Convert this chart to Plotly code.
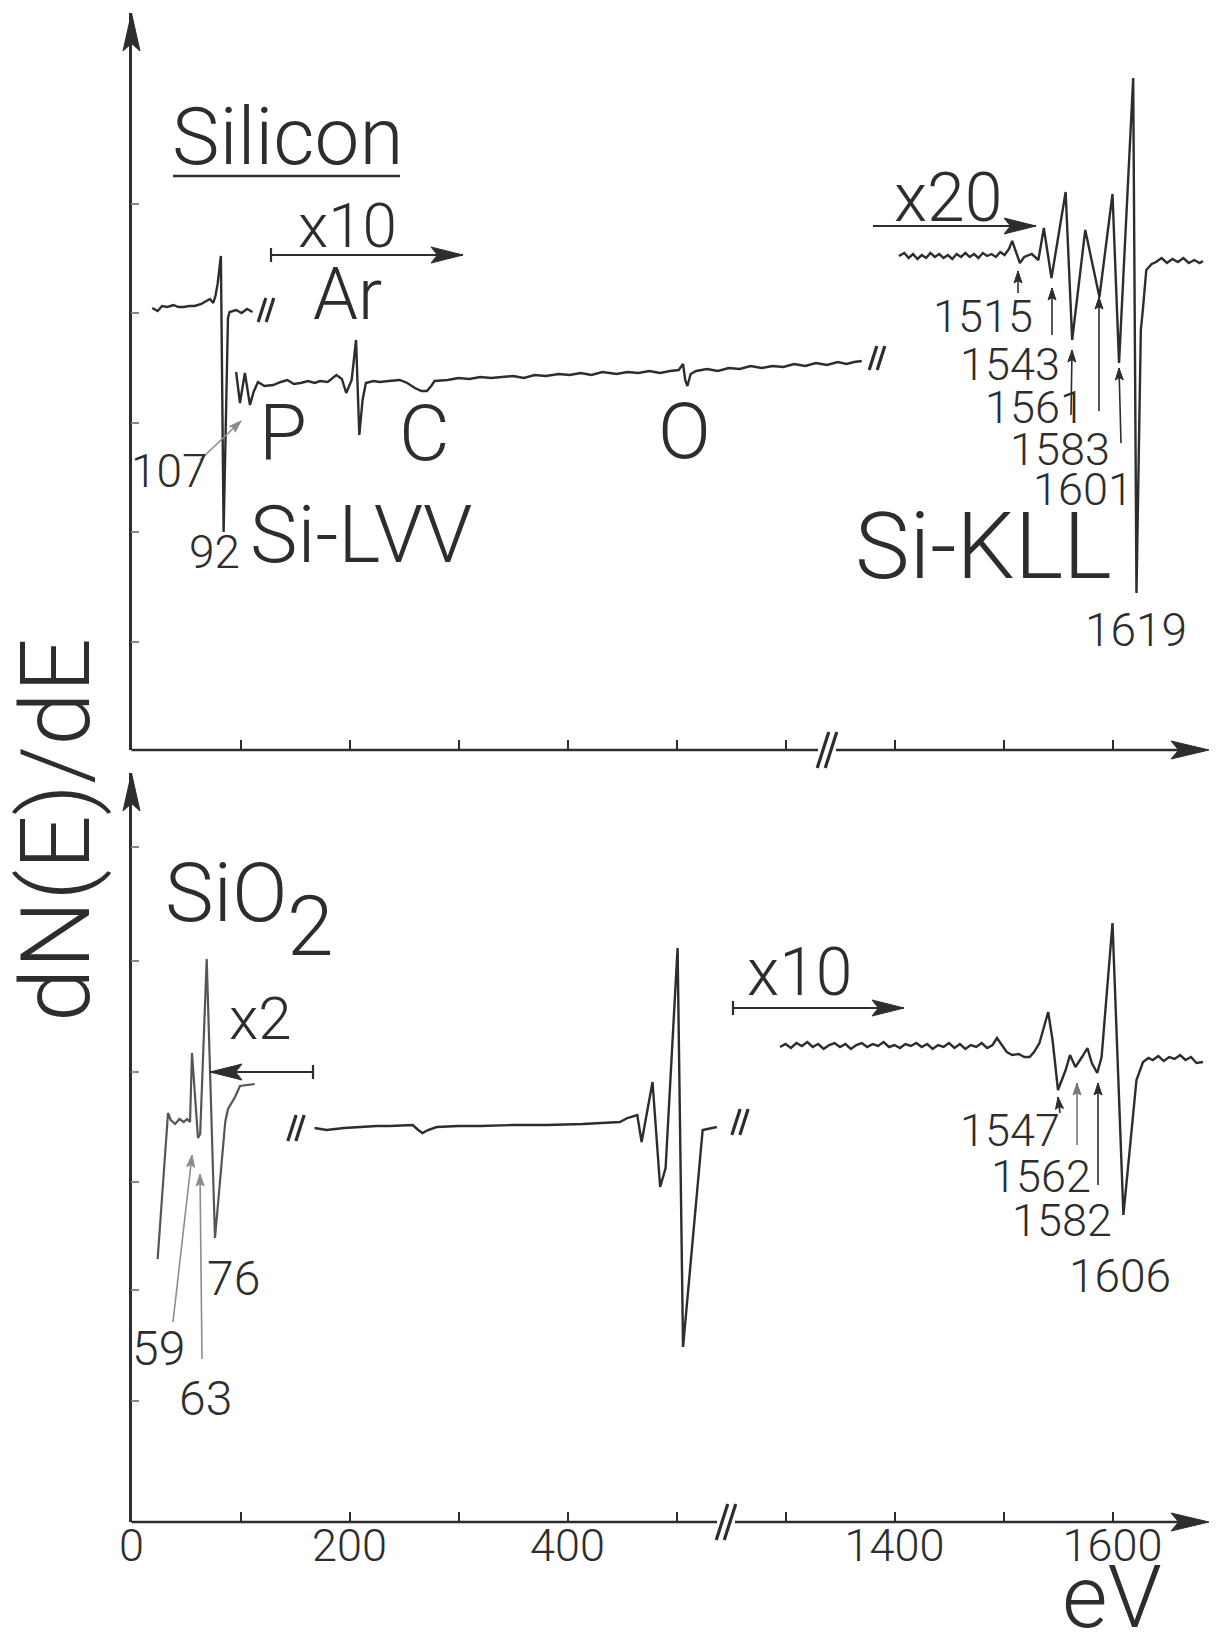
import math
import plotly.graph_objects as go

W, H = 1220, 1649
INK = "#2d2d2d"
GREY = "#8c8c8c"
FONT = "Roboto, Lato, 'DejaVu Sans', sans-serif"

# Broken energy axis: energies above the break are drawn shifted left by GAP eV
GAP = 700

# ------------------------------------------------------------------ data
# Silicon, Si-LVV region (x1)
si_lvv_e = [19, 24, 28, 33, 38.5, 43, 48, 53, 58, 62, 64, 67, 70, 72, 75, 77, 79, 82,
            84.5, 88.5, 90, 96, 101, 106, 111]
si_lvv_s = [4.42, 4.39, 4.44, 4.43, 4.45, 4.43, 4.43, 4.44, 4.44, 4.45, 4.46, 4.48, 4.50,
            4.51, 4.47, 4.54, 4.66, 4.94, 2.18, 4.32, 4.38, 4.40, 4.37, 4.41, 4.38]

# Silicon, 100-670 eV (x10): P, Ar, C, O
si_x10_e = [96, 99.5, 104, 108.7, 112, 116, 122, 130, 137, 143, 149, 155, 162, 168, 173,
            180, 188, 193, 197, 202, 206, 209, 212, 215, 222, 228, 236, 246, 253, 260,
            266, 271, 275, 278, 290, 300, 310, 320, 330, 340, 350, 360, 370, 380, 392,
            402, 412, 422, 432, 445, 455, 465, 475, 485, 494, 502, 506, 508, 510, 513,
            518, 528, 538, 548, 558, 568, 578, 588, 598, 608, 618, 628, 638, 648, 656,
            663, 670]
si_x10_s = [3.78, 3.47, 3.77, 3.45, 3.58, 3.68, 3.64, 3.65, 3.68, 3.70, 3.66, 3.67, 3.69,
            3.67, 3.69, 3.68, 3.75, 3.71, 3.57, 3.70, 4.10, 3.15, 3.50, 3.67, 3.69, 3.68,
            3.69, 3.70, 3.67, 3.62, 3.59, 3.59, 3.64, 3.69, 3.70, 3.72, 3.71, 3.73, 3.72,
            3.73, 3.74, 3.72, 3.75, 3.74, 3.76, 3.75, 3.77, 3.75, 3.78, 3.76, 3.78, 3.77,
            3.79, 3.77, 3.79, 3.80, 3.86, 3.70, 3.64, 3.76, 3.79, 3.81, 3.79, 3.82, 3.81,
            3.84, 3.82, 3.84, 3.83, 3.86, 3.84, 3.87, 3.85, 3.88, 3.86, 3.88, 3.89]

# Silicon, Si-KLL region (x20)
si_kll_e = [1404, 1409, 1413, 1417, 1421, 1425, 1429, 1433, 1437, 1441, 1445, 1449, 1453,
            1457, 1461, 1465, 1469, 1473, 1477, 1481, 1485, 1489, 1493, 1497, 1501, 1505,
            1508, 1511, 1515, 1519, 1526, 1532, 1537, 1544, 1557, 1563, 1575, 1588, 1600,
            1606, 1619, 1622, 1626, 1628, 1631, 1636, 1640, 1645, 1650, 1655, 1660, 1665,
            1670, 1675, 1680, 1683]
si_kll_s = [4.94, 4.97, 4.92, 4.96, 4.91, 4.95, 4.92, 4.97, 4.93, 4.96, 4.92, 4.95, 4.91,
            4.96, 4.93, 4.97, 4.93, 4.96, 4.92, 4.97, 4.94, 4.96, 4.93, 4.98, 4.95, 5.01,
            5.09, 5.00, 4.87, 4.93, 4.96, 4.90, 5.22, 4.72, 5.58, 4.10, 5.20, 4.53, 5.56,
            3.87, 6.72, 1.57, 4.20, 4.42, 4.80, 4.86, 4.88, 4.92, 4.87, 4.91, 4.88, 4.92,
            4.87, 4.90, 4.87, 4.89]

# SiO2, Si-LVV region (x2)
sio2_lvv_e = [24, 33.5, 36, 40, 44, 48, 51, 53.7, 55.5, 61, 63, 69, 76.6, 86, 88.5, 95,
              99.5, 106, 113]
sio2_lvv_s = [2.63, 4.09, 4.02, 3.98, 4.03, 4.00, 4.03, 4.00, 4.69, 3.84, 3.88, 5.63, 2.84,
              4.00, 4.13, 4.25, 4.36, 4.37, 4.38]

# SiO2, 170-540 eV (x1): C, O-KLL
sio2_mid_e = [168, 179, 195, 210, 225, 237, 250, 258, 263, 267, 272, 280, 300, 320, 350,
              381, 414, 440, 448, 455, 464, 468, 478, 485, 490, 501, 506, 524, 537]
sio2_mid_s = [3.94, 3.92, 3.94, 3.95, 3.96, 3.96, 3.97, 3.97, 3.92, 3.89, 3.92, 3.95, 3.96,
              3.96, 3.97, 3.97, 3.98, 4.00, 4.00, 4.04, 4.07, 3.80, 4.40, 3.35, 3.54, 5.74,
              1.75, 3.92, 3.95]

# SiO2, Si-KLL region (x10)
sio2_kll_e = [1295, 1300, 1305, 1310, 1315, 1320, 1325, 1330, 1335, 1340, 1345, 1350, 1355,
              1360, 1365, 1370, 1375, 1380, 1385, 1390, 1395, 1400, 1405, 1410, 1415, 1420,
              1425, 1430, 1435, 1440, 1445, 1450, 1455, 1460, 1465, 1470, 1475, 1480, 1485,
              1490, 1494, 1498, 1503, 1508, 1514, 1519, 1524, 1528, 1533, 1541, 1545, 1550,
              1557, 1561, 1566, 1572, 1577, 1581, 1586, 1590, 1600, 1610, 1622, 1628, 1633,
              1637, 1642, 1647, 1652, 1657, 1662, 1667, 1672, 1677, 1683]
sio2_kll_s = [4.75, 4.78, 4.74, 4.79, 4.76, 4.80, 4.75, 4.78, 4.73, 4.77, 4.79, 4.75, 4.78,
              4.73, 4.77, 4.79, 4.75, 4.78, 4.76, 4.80, 4.75, 4.77, 4.74, 4.78, 4.76, 4.79,
              4.75, 4.78, 4.73, 4.77, 4.75, 4.79, 4.74, 4.78, 4.73, 4.77, 4.75, 4.79, 4.74,
              4.77, 4.84, 4.78, 4.70, 4.67, 4.68, 4.65, 4.65, 4.70, 4.79, 5.10, 4.82, 4.32,
              4.52, 4.67, 4.55, 4.65, 4.74, 4.59, 4.49, 4.65, 5.99, 3.07, 4.42, 4.60, 4.64,
              4.62, 4.66, 4.61, 4.65, 4.63, 4.67, 4.62, 4.65, 4.59, 4.60]

# axis ticks (eV) and labels
top_tick_ev = [100, 200, 300, 400, 500, 600, 1400, 1500, 1600]
bot_tick_ev = [0, 100, 200, 300, 400, 500, 1300, 1400, 1500, 1600]
bot_tick_text = ["0", "", "200", "", "400", "", "", "1400", "", "1600"]
top_ytick = [1.08, 2.18, 3.27, 4.37, 5.46]
bot_ytick = [1.21, 2.32, 3.40, 4.50, 5.61, 6.75]


def disp(E):
    return [e - GAP if e >= 1000 else e for e in E]


# ------------------------------------------------------------------ geometry helpers
Y0PX = 131.5          # pixel column of the energy origin
PXPEV = 1.09          # pixels per eV
XMAX = (W - Y0PX) / PXPEV


def X(px):
    return px / W


def Y(py):
    return 1 - py / H


def line(x0, y0, x1, y1, color=INK, width=2.4):
    return dict(type="line", xref="paper", yref="paper", x0=X(x0), y0=Y(y0),
                x1=X(x1), y1=Y(y1), line=dict(color=color, width=width))


def head(xb, yb, xt, yt, color=INK, head_len=28, head_w=12):
    dx, dy = xt - xb, yt - yb
    L = math.hypot(dx, dy)
    ux, uy = dx / L, dy / L
    bx, by = xt - ux * head_len, yt - uy * head_len
    nx, ny = -uy, ux
    p1 = (bx + nx * head_w / 2, by + ny * head_w / 2)
    p2 = (bx - nx * head_w / 2, by - ny * head_w / 2)
    path = (f"M {X(xt)},{Y(yt)} L {X(p1[0])},{Y(p1[1])} "
            f"L {X(bx + ux * head_len * 0.2)},{Y(by + uy * head_len * 0.2)} "
            f"L {X(p2[0])},{Y(p2[1])} Z")
    return dict(type="path", path=path, xref="paper", yref="paper",
                fillcolor=color, line=dict(color=color, width=1))


def arrow(x0, y0, x1, y1, color=INK, width=2.2, head_len=28, head_w=12, tail=0):
    out = [line(x0, y0, x1, y1, color, width), head(x0, y0, x1, y1, color, head_len, head_w)]
    if tail:
        dx, dy = x1 - x0, y1 - y0
        L = math.hypot(dx, dy)
        nx, ny = -dy / L, dx / L
        out.append(line(x0 - nx * tail, y0 - ny * tail, x0 + nx * tail, y0 + ny * tail, color, width))
    return out


def brk(cx, cy, h=26, color=INK, width=3.2):
    s = 0.32 * h
    out = []
    for off in (-4, 4):
        out.append(line(cx + off - s / 2, cy + h / 2, cx + off + s / 2, cy - h / 2, color, width))
    return out


def label(text, px, py, size, color=INK, angle=0, xanchor="center"):
    return dict(text=text, x=X(px), y=Y(py), xref="paper", yref="paper", showarrow=False,
                xanchor=xanchor, yanchor="middle", textangle=angle,
                font=dict(family=FONT, size=size, color=color, weight=300))


# ------------------------------------------------------------------ figure
fig = go.Figure()

def add(e, s, ax, color=INK, width=2.4):
    fig.add_trace(go.Scatter(x=disp(e), y=s, mode="lines", xaxis=ax[0], yaxis=ax[1],
                             line=dict(color=color, width=width), hoverinfo="skip",
                             showlegend=False))

add(si_lvv_e, si_lvv_s, ("x", "y"))
add(si_x10_e, si_x10_s, ("x", "y"))
add(si_kll_e, si_kll_s, ("x", "y"))
add(sio2_lvv_e, sio2_lvv_s, ("x2", "y2"), color="#555555", width=2.2)
add(sio2_mid_e, sio2_mid_s, ("x2", "y2"))
add(sio2_kll_e, sio2_kll_s, ("x2", "y2"))

TOP_AX, TOP_TIP = 750, 13
BOT_AX, BOT_TIP = 1522, 773
XDOM = [Y0PX / W, 1]

common_x = dict(range=[0, XMAX], domain=XDOM, showline=False, showgrid=False, zeroline=False,
                ticks="inside", ticklen=10, tickwidth=2, tickcolor=INK, automargin=False)
common_y = dict(showline=True, linecolor=INK, linewidth=2.6, showgrid=False, zeroline=False,
                ticks="inside", ticklen=8, tickwidth=1.5, tickcolor="#888888",
                showticklabels=False, automargin=False)

fig.update_layout(
    template="none",
    width=W, height=H, margin=dict(l=0, r=0, t=0, b=0, pad=0), autosize=False,
    paper_bgcolor="white", plot_bgcolor="rgba(0,0,0,0)",
    xaxis=dict(common_x, anchor="y", tickmode="array", tickvals=disp(top_tick_ev),
               showticklabels=False),
    yaxis=dict(common_y, anchor="x", domain=[Y(TOP_AX), Y(TOP_TIP)],
               range=[0, (TOP_AX - TOP_TIP) / 100], tickmode="array", tickvals=top_ytick),
    xaxis2=dict(common_x, anchor="y2", tickmode="array", tickvals=disp(bot_tick_ev),
                ticktext=bot_tick_text, showticklabels=True, ticklabelstandoff=-7,
                tickfont=dict(family=FONT, size=45, color=INK, weight=300)),
    yaxis2=dict(common_y, anchor="x2", domain=[Y(BOT_AX), Y(BOT_TIP)],
                range=[0, (BOT_AX - BOT_TIP) / 100], tickmode="array", tickvals=bot_ytick),
)

shapes = []
# energy axes with break and arrow
shapes += [line(Y0PX, TOP_AX, 818, TOP_AX, width=2.6), line(836, TOP_AX, 1185, TOP_AX, width=2.6),
           head(1100, TOP_AX, 1209, TOP_AX, head_len=38, head_w=18)]
shapes += brk(827, TOP_AX, h=36)
shapes += [line(Y0PX, BOT_AX, 717, BOT_AX, width=2.6), line(735, BOT_AX, 1185, BOT_AX, width=2.6),
           head(1100, BOT_AX, 1209, BOT_AX, head_len=38, head_w=18)]
shapes += brk(726, BOT_AX, h=36)
# intensity axis arrowheads
shapes += [head(Y0PX, 200, Y0PX, TOP_TIP, head_len=38, head_w=17),
           head(Y0PX, 900, Y0PX, BOT_TIP, head_len=38, head_w=17)]
# breaks in the spectra
shapes += brk(266, 310, h=24) + brk(877, 358, h=24)
shapes += brk(296, 1128, h=26) + brk(740, 1122, h=26)
# "Silicon" underline
shapes.append(line(173, 176, 400, 176, width=2.6))
# gain arrows
shapes += arrow(271, 255, 463, 255, tail=7, head_len=32, head_w=16)
shapes += arrow(873, 226, 1036, 226, tail=0, head_len=32, head_w=16)
shapes += arrow(733, 1008, 904, 1008, tail=7, head_len=32, head_w=16)
shapes += arrow(313, 1072, 210, 1072, tail=7, head_len=32, head_w=16)
# peak markers
sm = dict(width=1.6, head_len=12, head_w=8)
shapes += arrow(200, 460, 241, 421, color=GREY, **sm)
shapes += arrow(1018, 293, 1018, 271, **sm)
shapes += arrow(1052, 335, 1052, 288, **sm)
shapes += arrow(1071, 415, 1072, 350, **sm)
shapes += arrow(1099, 411, 1099, 297, **sm)
shapes += arrow(1121, 443, 1119, 368, **sm)
shapes += arrow(1060, 1113, 1058, 1097, **sm)
shapes += arrow(1077, 1145, 1077, 1083, color="#777777", **sm)
shapes += arrow(1098, 1185, 1098, 1083, **sm)
shapes += arrow(173, 1322, 192, 1155, color=GREY, **sm)
shapes += arrow(202, 1359, 200, 1174, color=GREY, **sm)
fig.update_layout(shapes=shapes)

ann = [
    label("Silicon", 287, 137, 80),
    label("x10", 347, 226, 62),
    label("Ar", 347, 294, 72),
    label("P", 283, 434, 78),
    label("C", 424, 434, 78),
    label("O", 684, 432, 78),
    label("107", 170, 471, 46),
    label("92", 214, 552, 46),
    label("Si-LVV", 361, 535, 80),
    label("x20", 948, 198, 68),
    label("1515", 983, 316, 45),
    label("1543", 1010, 364, 45),
    label("1561", 1035, 407, 45),
    label("1583", 1060, 450, 45),
    label("1601", 1083, 489, 45),
    label("Si-KLL", 983, 547, 92),
    label("1619", 1136, 630, 46),
    label("SiO", 226, 893, 82),
    label("2", 310, 926, 84),
    label("x2", 260, 1018, 60),
    label("x10", 800, 972, 66),
    label("59", 158, 1348, 48),
    label("63", 205, 1398, 48),
    label("76", 233, 1278, 48),
    label("1547", 1010, 1130, 45),
    label("1562", 1041, 1176, 45),
    label("1582", 1062, 1220, 45),
    label("1606", 1120, 1276, 46),
    label("eV", 1112, 1596, 88),
    label("dN(E)/dE", 56, 830, 96, angle=-90),
]
fig.update_layout(annotations=ann)

fig.write_html("out.html", config={"displayModeBar": False})
